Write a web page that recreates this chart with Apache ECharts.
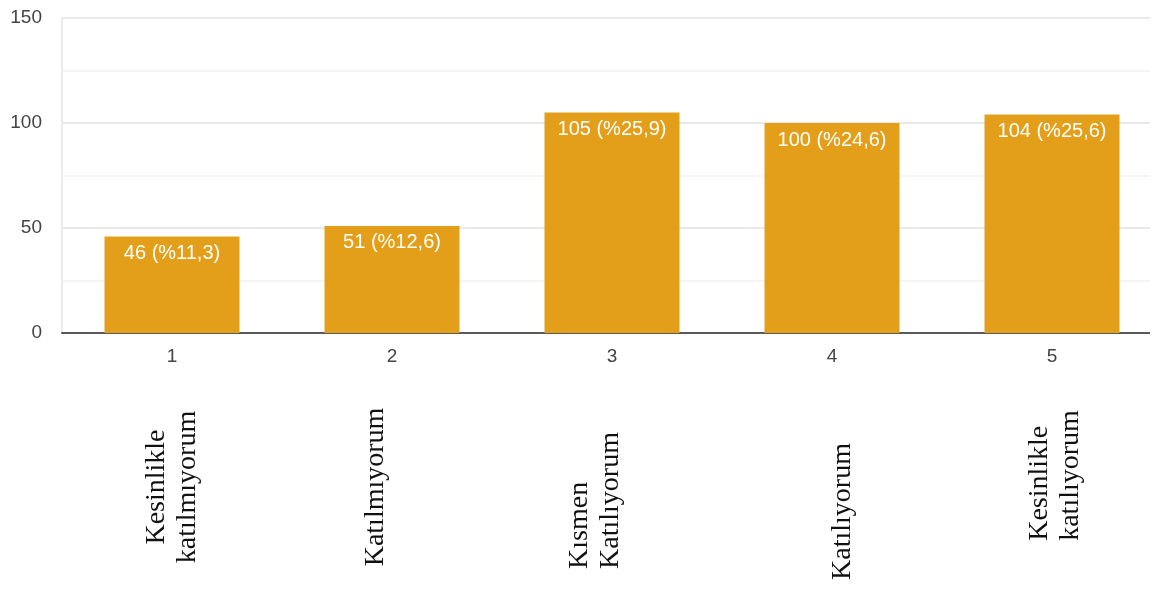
<!DOCTYPE html>
<html>
<head>
<meta charset="utf-8">
<script src="https://cdn.jsdelivr.net/npm/echarts@6/dist/echarts.min.js"></script>
<style>
html,body{margin:0;padding:0;background:#fff;}
#clip{width:1150px;height:589px;overflow:hidden;}
#main{width:1170px;height:589px;}
</style>
</head>
<body>
<div id="clip"><div id="main"></div></div>
<script>
// ---- data ----
var categories = ['1', '2', '3', '4', '5'];
var counts = [46, 51, 105, 100, 104];
var percents = ['11,3', '12,6', '25,9', '24,6', '25,6'];
var answerLabels = [
  ['Kesinlikle', 'katılmıyorum'],
  ['Katılmıyorum'],
  ['Kısmen', 'Katılıyorum'],
  ['Katılıyorum'],
  ['Kesinlikle', 'katılıyorum']
];
var yTicks = [0, 50, 100, 150];

// ---- per-label layout tweaks (padding in the rotated text frame) ----
var answerStyles = [
  { padding: [0, 0, 0, 0] },
  { padding: [0, 0, 32, 0] },
  { padding: [0, 27, 34, 0], rich: true },
  { padding: [22, 49, 0, 0] },
  { padding: [7, 0, 0, 23], rich: true }
];

var serif = 'Liberation Serif, Times New Roman, serif';
var answerData = categories.map(function (c, i) {
  return {
    value: c,
    textStyle: {
      align: 'center',
      verticalAlign: 'middle',
      padding: answerStyles[i].padding,
      color: '#111',
      fontFamily: serif,
      fontSize: 28,
      lineHeight: 31
    }
  };
});

var chart = echarts.init(document.getElementById('main'), null, { renderer: 'canvas' });
chart.setOption({
  animation: false,
  backgroundColor: '#ffffff',
  grid: { left: 62, top: 18, width: 1100, height: 315, containLabel: false, outerBoundsMode: 'none' },
  xAxis: [
    {
      type: 'category',
      data: categories,
      position: 'bottom',
      axisLine: { show: true, lineStyle: { color: '#5a5a5a', width: 2 } },
      axisTick: { show: false },
      axisLabel: { color: '#444', fontFamily: 'Liberation Sans, Arial', fontSize: 19, margin: 14 }
    },
    {
      type: 'category',
      data: answerData,
      position: 'bottom',
      axisLine: { show: false },
      axisTick: { show: false },
      splitLine: { show: false },
      axisLabel: {
        interval: 0,
        rotate: 90,
        align: 'center',
        verticalAlign: 'middle',
        margin: 154,
        color: '#111',
        fontFamily: serif,
        fontSize: 28,
        lineHeight: 31,
        formatter: function (v) {
          var i = categories.indexOf(v);
          var lines = answerLabels[i];
          if (answerStyles[i].rich) {
            return lines.map(function (s) { return '{l|' + s + '}'; }).join('\n');
          }
          return lines.join('\n');
        },
        rich: {
          l: { align: 'left', fontFamily: serif, fontSize: 28, lineHeight: 31, color: '#111' }
        }
      }
    }
  ],
  yAxis: {
    type: 'value',
    min: yTicks[0],
    max: yTicks[yTicks.length - 1],
    interval: 50,
    axisLine: { show: true, lineStyle: { color: '#ececec', width: 2 } },
    axisTick: { show: false },
    axisLabel: { color: '#444', fontFamily: 'Liberation Sans, Arial', fontSize: 19, margin: 20 },
    splitLine: { show: true, lineStyle: { color: '#e9e9e9', width: 2 } },
    minorTick: { show: false, splitNumber: 2 },
    minorSplitLine: { show: true, lineStyle: { color: '#f4f4f4', width: 2 } }
  },
  series: [{
    type: 'bar',
    xAxisIndex: 0,
    data: counts,
    barWidth: 135,
    itemStyle: { color: '#E49F1A' },
    label: {
      show: true,
      position: 'insideTop',
      distance: 7,
      color: '#fff',
      fontFamily: 'Liberation Sans, Arial',
      fontSize: 20,
      formatter: function (p) { return counts[p.dataIndex] + ' (%' + percents[p.dataIndex] + ')'; }
    }
  }]
});
</script>
</body>
</html>
